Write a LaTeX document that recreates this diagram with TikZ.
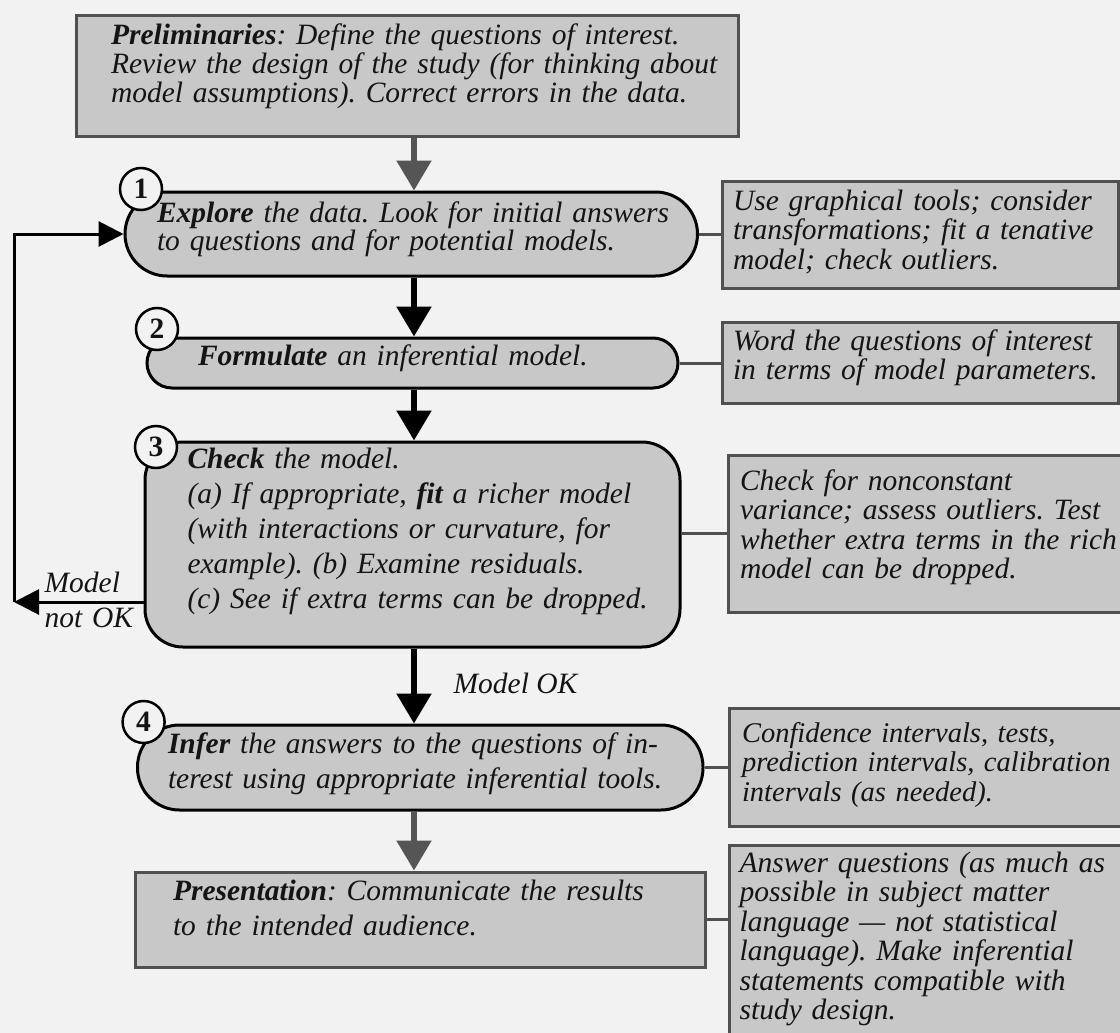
\documentclass[tikz,border=0pt]{standalone}
\usepackage{fontspec}
\setmainfont{Liberation Serif}
\usetikzlibrary{arrows.meta}
\frenchspacing
\newcommand{\keepline}{\rightskip=-200pt plus 1fil\relax}
\newcommand{\fullline}[2]{\makebox[#1][s]{#2}}

\begin{document}
\begin{tikzpicture}[x=1pt,y=-1pt,
  box/.style={draw=drawColor,line width=3pt,fill=fillColor,inner sep=0pt,align=left,text=textColor,text height=20pt},
  stadium/.style={box,draw=black,line width=3pt},
  sidebox/.style={box,font=\fontsize{29.5}{29.5}\selectfont\itshape},
  num/.style={circle,draw=black,line width=2.5pt,fill=bgColor,inner sep=0pt,minimum size=42pt,text=textColor,font=\fontsize{29.5}{29.5}\selectfont\bfseries},
  link/.style={draw=drawColor,line width=3pt},
  flow/.style={line width=5.5pt,-{Triangle[width=34pt,length=30pt]}},
  back/.style={line width=3pt,-{Triangle[width=25pt,length=25pt]}},
  lbl/.style={inner sep=0pt,anchor=text,text=textColor,font=\fontsize{29.5}{35}\selectfont\itshape,align=left}]
\definecolor{bgColor}{RGB}{242,242,242}
\definecolor{fillColor}{RGB}{200,200,200}
\definecolor{drawColor}{RGB}{80,80,80}
\definecolor{arrowGray}{RGB}{85,85,85}
\definecolor{textColor}{RGB}{20,20,20}

\useasboundingbox (0,0) rectangle (1120,1033);
\clip (0,0) rectangle (1120,1033);
\fill[bgColor] (0,0) rectangle (1120,1033);

\node[box,minimum width=662.6pt,minimum height=120pt,text width=592.6pt,text depth=82pt,font=\fontsize{29.5}{29}\selectfont\itshape] (prelim) at (407.3,76)
  {\keepline\textbf{Preliminaries}: Define the questions of interest.\\\mbox{Review the design of the study (for thinking about}\\model assumptions). Correct errors in the data.};

\node[stadium,rounded corners=42pt,minimum width=572.5pt,minimum height=84pt,text width=508.5pt,text depth=44pt,font=\fontsize{29.5}{27}\selectfont\itshape] (explore) at (411.25,234)
  {\keepline\fullline{510pt}{\textbf{Explore} the data. Look for initial answers}\\to questions and for potential models.};

\node[stadium,rounded corners=25pt,minimum width=531pt,minimum height=50pt,text width=429pt,text depth=16pt,font=\fontsize{29.5}{28}\selectfont\itshape] (formulate) at (412.5,363)
  {\keepline\textbf{Formulate} an inferential model.};

\node[stadium,rounded corners=38pt,minimum width=535pt,minimum height=205pt,text width=450pt,text depth=173pt,font=\fontsize{29.5}{35}\selectfont\itshape] (check) at (412.5,544.5)
  {\keepline\textbf{Check} the model.\\\mbox{(a) If appropriate, \textbf{fit} a richer model}\\\mbox{(with interactions or curvature, for}\\example). (b) Examine residuals.\\\mbox{(c) See if extra terms can be dropped.}};

\node[stadium,rounded corners=42pt,minimum width=565.5pt,minimum height=85pt,text width=504.5pt,text depth=49pt,font=\fontsize{29.5}{35}\selectfont\itshape] (infer) at (420.25,767.5)
  {\keepline\fullline{499pt}{\textbf{Infer} the answers to the questions of in-}\\\mbox{terest using appropriate inferential tools.}};

\node[box,minimum width=570pt,minimum height=95pt,text width=495.4pt,text depth=59pt,font=\fontsize{29.5}{35}\selectfont\itshape] (present) at (420.7,919.5)
  {\keepline\fullline{492pt}{\textbf{Presentation}: Communicate the results}\\to the intended audience.};

\node[sidebox,minimum width=396pt,minimum height=107pt,text width=374pt,text depth=69pt] (side1) at (920,234.5)
  {\keepline\fullline{364pt}{Use graphical tools; consider}\\transformations; fit a tenative\\model; check outliers.};

\node[sidebox,minimum width=396pt,minimum height=81pt,text width=374pt,text depth=45pt] (side2) at (920,362.5)
  {\keepline Word the questions of interest\\in terms of model parameters.};

\node[sidebox,minimum width=401.4pt,minimum height=157pt,text width=378.6pt,text depth=107pt] (side3) at (929.3,533.5)
  {\keepline Check for nonconstant\\variance; assess outliers. Test\\whether extra terms in the rich\\model can be dropped.};

\node[sidebox,minimum width=400.4pt,minimum height=118pt,text width=375.6pt,text depth=70pt,font=\fontsize{28.5}{29.5}\selectfont\itshape] (side4) at (929.8,767)
  {\keepline Confidence intervals, tests,\\\mbox{prediction intervals, calibration}\\intervals (as needed).};

\node[sidebox,minimum width=400.4pt,minimum height=205pt,text width=380.4pt,text depth=171pt] (side5) at (929.8,947.5)
  {\keepline Answer questions (as much as\\possible in subject matter\\language --- not statistical\\language). Make inferential\\statements compatible with\\study design.};

\node[num] (n1) at (141,189) {1};
\node[num] (n2) at (157,329) {2};
\node[num] (n3) at (156,447) {3};
\node[num] (n4) at (143.6,722) {4};

\coordinate (spine) at (414,0);
\coordinate (turn) at (14,602);

\draw[flow,draw=arrowGray] (prelim.south -| spine) -- (explore.north -| spine);
\draw[flow] (explore.south -| spine) -- (formulate.north -| spine);
\draw[flow] (formulate.south -| spine) -- (check.north -| spine);
\draw[flow] (check.south -| spine) -- (infer.north -| spine);
\draw[flow,draw=arrowGray] (infer.south -| spine) -- (present.north -| spine);

\draw[back] (check.west |- turn) -- (turn);
\draw[back] (turn) |- (explore.west);

\draw[link] (explore.east) -- (explore.east -| side1.west);
\draw[link] (formulate.east) -- (formulate.east -| side2.west);
\draw[link] (side3.west -| check.east) -- (side3.west);
\draw[link] (infer.east) -- (infer.east -| side4.west);
\draw[link] (present.east) -- (present.east -| side5.west);

\node[lbl] (modelok) at (453.6,693) {Model OK};
\node[lbl,text width=120pt] (notok) at (44.6,592) {Model\\not OK};
\end{tikzpicture}
\end{document}
